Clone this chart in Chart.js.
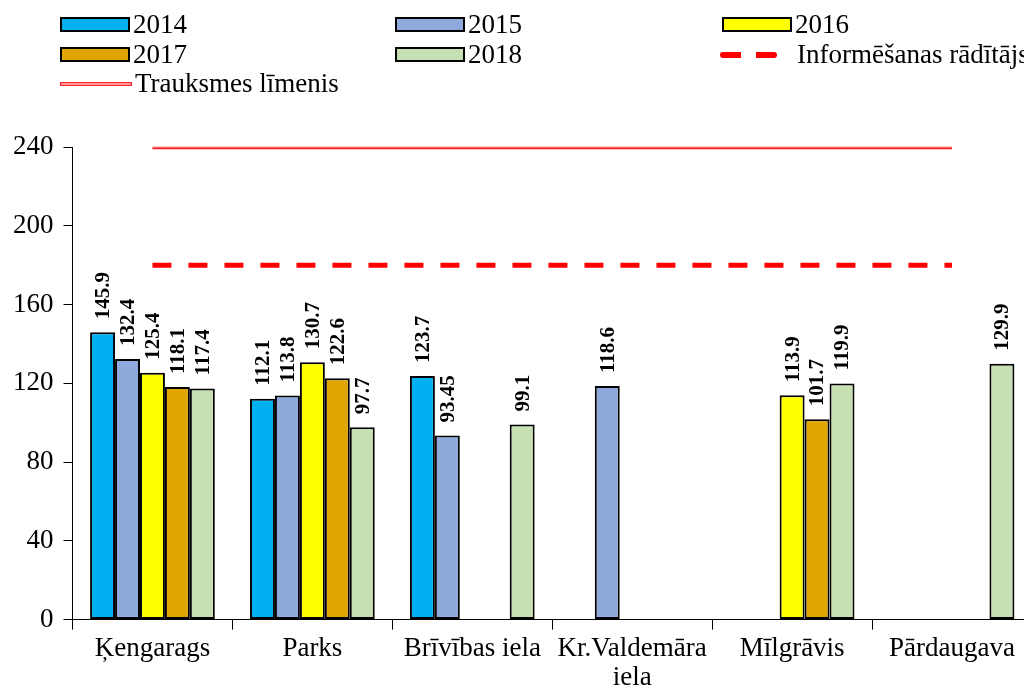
<!DOCTYPE html>
<html>
<head>
<meta charset="utf-8">
<script src="https://cdn.jsdelivr.net/npm/chart.js@4/dist/chart.umd.min.js"></script>
<style>
  html, body { margin: 0; padding: 0; background: #fff; overflow: hidden; }
  #wrap { position: relative; width: 1040px; height: 700px; }
  #legend { position: absolute; left: 0; top: 0; width: 1040px; height: 100px;
            font-family: "Liberation Serif", "Times New Roman", serif; font-size: 27px; color: #000; }
  .item { position: absolute; display: flex; align-items: center; white-space: nowrap; }
  .sw { display: inline-block; width: 66px; height: 11px; border: 2px solid #000; margin-right: 3px; }
  .ln { display: inline-block; width: 70px; margin-right: 3px; }
</style>
</head>
<body>
<div id="wrap">
  <canvas id="chart" width="1040" height="700"></canvas>
  <div id="legend"></div>
</div>
<script>
// data
var categories = ['Ķengarags', 'Parks', 'Brīvības iela', ['Kr.Valdemāra', 'iela'], 'Mīlgrāvis', 'Pārdaugava'];
var years = ['2014', '2015', '2016', '2017', '2018'];
var v2014 = [145.9, 112.1, 123.7, null, null, null];
var v2015 = [132.4, 113.8, 93.45, 118.6, null, null];
var v2016 = [125.4, 130.7, null, null, 113.9, null];
var v2017 = [118.1, 122.6, null, null, 101.7, null];
var v2018 = [117.4, 97.7, 99.1, null, 119.9, 129.9];
var informLevel = [180, 180, 180, 180, 180, 180];
var alarmLevel = [240, 240, 240, 240, 240, 240];
var yTicks = [0, 40, 80, 120, 160, 200, 240];

var colors = ['#00B0F0', '#8EA9DB', '#FFFF00', '#E0A500', '#C6E0B4'];
var serif = '"Liberation Serif", "Times New Roman", serif';

var barSeries = [v2014, v2015, v2016, v2017, v2018];
var datasets = barSeries.map(function (vals, i) {
    return {
        type: 'bar',
        label: years[i],
        data: vals,
        backgroundColor: colors[i],
        borderColor: '#000',
        borderWidth: 2,
        borderSkipped: false,
        categoryPercentage: 0.78,
        barPercentage: 1.0,
        order: 2
    };
});
datasets.push({
    type: 'line', label: 'Informēšanas rādītājs', data: informLevel,
    borderColor: '#FF0000', borderWidth: 5, borderDash: [19, 17],
    pointRadius: 0, fill: false, order: 1
});
datasets.push({
    type: 'line', label: 'Trauksmes līmenis', data: alarmLevel,
    borderColor: '#FF2020', borderWidth: 4.5, doubleLine: true,
    pointRadius: 0, fill: false, order: 1
});

// light stroke through the middle of the alarm line so it reads as a double line
var doubleLine = {
    id: 'doubleLine',
    afterDatasetsDraw: function (chart) {
        var ctx = chart.ctx;
        chart.data.datasets.forEach(function (ds, di) {
            if (!ds.doubleLine) return;
            var pts = chart.getDatasetMeta(di).data;
            ctx.save();
            ctx.strokeStyle = '#FF9C9C';
            ctx.lineWidth = 1.2;
            ctx.beginPath();
            pts.forEach(function (p, k) { if (k === 0) ctx.moveTo(p.x, p.y); else ctx.lineTo(p.x, p.y); });
            ctx.stroke();
            ctx.restore();
        });
    }
};

// vertical value labels above the bars
var barLabels = {
    id: 'barLabels',
    afterDatasetsDraw: function (chart) {
        var ctx = chart.ctx;
        ctx.save();
        ctx.font = 'bold 21px ' + serif;
        ctx.fillStyle = '#000';
        ctx.textAlign = 'left';
        ctx.textBaseline = 'middle';
        chart.data.datasets.forEach(function (ds, di) {
            if (ds.type !== 'bar') return;
            var meta = chart.getDatasetMeta(di);
            meta.data.forEach(function (bar, j) {
                var v = ds.data[j];
                if (v === null || v === undefined) return;
                ctx.save();
                ctx.translate(bar.x + 1, bar.y - 13);
                ctx.rotate(-Math.PI / 2);
                ctx.fillText(String(v), 0, 0);
                ctx.restore();
            });
        });
        ctx.restore();
    }
};

var ctx = document.getElementById('chart').getContext('2d');
var chart = new Chart(ctx, {
    data: { labels: categories, datasets: datasets },
    options: {
        responsive: false,
        animation: false,
        layout: { padding: { top: 147, left: 3, right: 8, bottom: 3 } },
        plugins: { legend: { display: false }, tooltip: { enabled: false } },
        scales: {
            x: {
                offset: true,
                grid: { display: true, offset: true, drawOnChartArea: false, color: '#000', tickLength: 10, lineWidth: 1 },
                border: { display: true, color: '#000', width: 1 },
                ticks: { color: '#000', font: { family: serif, size: 27, lineHeight: 1.1 }, padding: 4, maxRotation: 0, autoSkip: false }
            },
            y: {
                min: 0, max: 240,
                afterBuildTicks: function (axis) { axis.ticks = yTicks.map(function (v) { return { value: v }; }); },
                grid: { display: true, drawOnChartArea: false, color: '#000', tickLength: 9 },
                border: { display: true, color: '#000', width: 1 },
                ticks: { color: '#000', font: { family: serif, size: 27 }, padding: 10 }
            }
        }
    },
    plugins: [barLabels, doubleLine]
});

// html legend laid out in three columns like the original
var legendPos = [[60, 25], [395, 25], [722, 25], [60, 55], [395, 55], [720, 55], [60, 84]];
var legend = document.getElementById('legend');
chart.data.datasets.forEach(function (ds, i) {
    var item = document.createElement('div');
    item.className = 'item';
    item.style.left = legendPos[i][0] + 'px';
    item.style.top = (legendPos[i][1] - 16) + 'px';
    var mark = document.createElement('span');
    if (ds.type === 'bar') {
        mark.className = 'sw';
        mark.style.background = ds.backgroundColor;
    } else if (ds.borderDash) {
        mark.className = 'ln';
        mark.style.width = '57px';
        mark.style.height = '6px';
        mark.style.marginRight = '20px';
        mark.style.background = 'linear-gradient(to right, ' + ds.borderColor + ' 0 21px, transparent 21px 36px, ' +
            ds.borderColor + ' 36px 57px)';
        mark.style.borderRadius = '3px';
    } else {
        mark.className = 'ln';
        mark.style.height = '2px';
        mark.style.border = '1px solid ' + ds.borderColor;
        mark.style.background = '#FF9C9C';
    }
    var txt = document.createElement('span');
    txt.textContent = ds.label;
    item.appendChild(mark);
    item.appendChild(txt);
    legend.appendChild(item);
});
</script>
</body>
</html>
